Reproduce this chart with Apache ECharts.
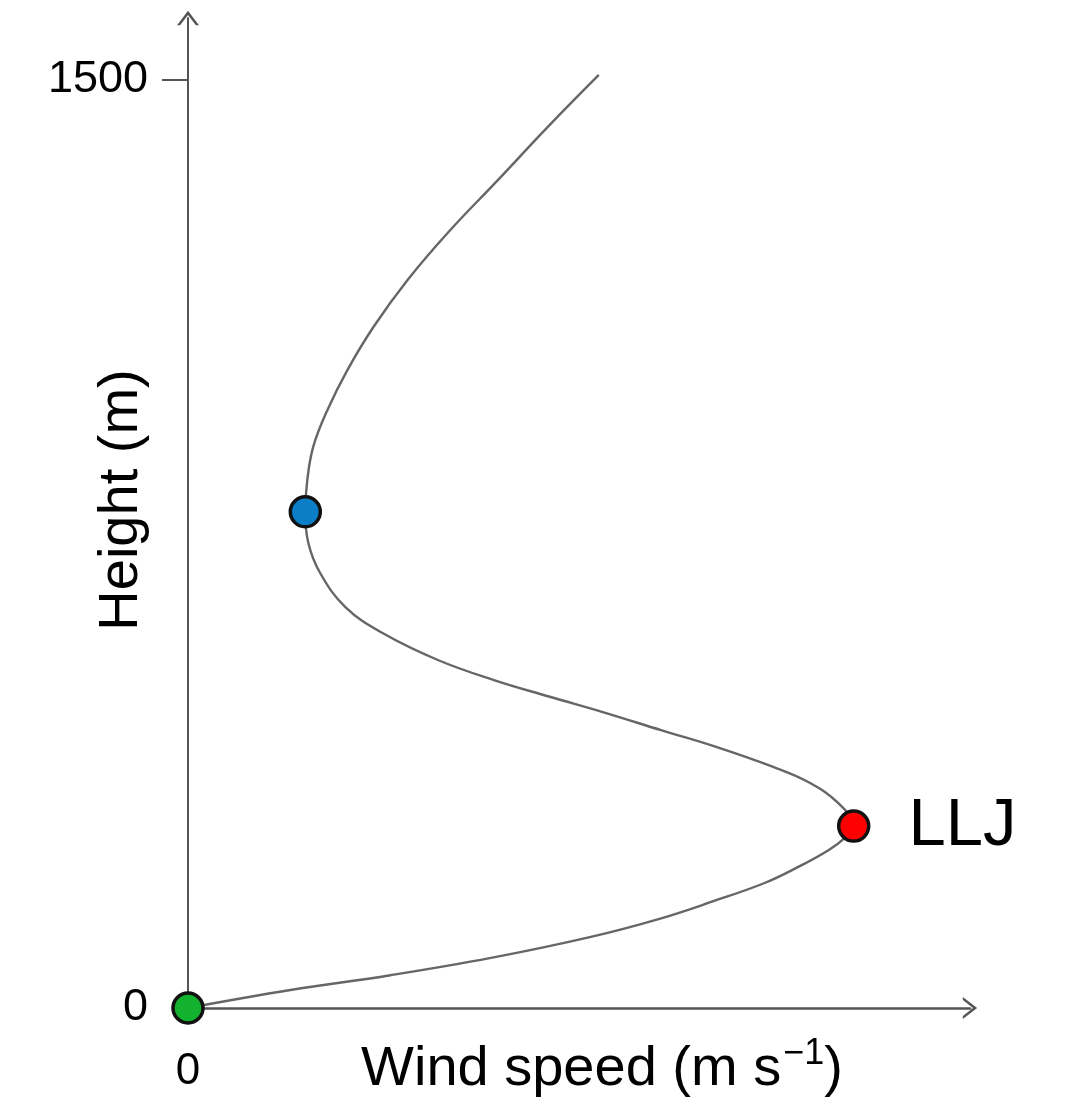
<!DOCTYPE html>
<html>
<head>
<meta charset="utf-8">
<title>LLJ wind profile</title>
<script src="https://cdn.jsdelivr.net/npm/echarts@6/dist/echarts.min.js"></script>
<style>
  html, body { margin: 0; padding: 0; background: #fff; }
  #chart { width: 1066px; height: 1102px; }
</style>
</head>
<body>
<div id="chart"></div>
<script>
'use strict';

// wind profile, ordered from the ground upward
const profileSpeed = [0, 2.07, 4.09, 6.12, 8.14, 9.56, 10.63, 11.65, 12.33, 12.94, 13.27, 13.45,
  13.14, 12.56, 11.81, 10.67, 9.56, 8.43, 7.31, 6.18, 5.06, 3.93, 3.18, 2.67, 2.43, 2.37,
  2.41, 2.53, 2.82, 3.22, 3.75, 4.44, 5.25, 6.26, 7.27, 8.30]
const profileHeight = [0, 29, 53, 81, 115, 145, 173, 202, 228, 255, 275, 294,
  331, 364, 390, 422, 449, 477, 503, 530, 562, 606, 648, 703, 752, 802,
  853, 907, 967, 1031, 1101, 1177, 1253, 1338, 1424, 1508]

// marked points: surface, jet nose, wind minimum above the jet
const markerNames = ['surface', 'LLJ', 'minimum']
const markerSpeed = [0, 13.45, 2.37]
const markerHeight = [0, 294, 802]
const markerColors = ['#12b22e', '#ff0000', '#0a7fc8']

const yTickLabels = [0, 1500]
const xTickLabels = [0]

const axisColor = '#555'
const font = '"Liberation Sans", Arial, sans-serif'
// open chevron used for the axis arrow heads
const chevron = 'path://M10,0 L20,13 L17.2,13 L10,3.8 L2.8,13 L0,13 Z'

const chart = echarts.init(document.getElementById('chart'))

const option = {
  backgroundColor: '#fff',
  animation: false,
  grid: { left: 188, right: 96, top: 18, bottom: 94, containLabel: false, outerBoundsMode: 'none' },
  xAxis: {
    type: 'value',
    min: 0,
    max: 15.8,
    name: '{a|Wind speed (m s}{b|−1}{a|)}',
    nameLocation: 'middle',
    nameGap: 28,
    nameMoveOverlap: false,
    nameTextStyle: {
      padding: [0, 0, 0, 46],
      rich: {
        a: { fontFamily: font, fontSize: 56, color: '#000', lineHeight: 62, verticalAlign: 'bottom' },
        b: { fontFamily: font, fontSize: 36, color: '#000', lineHeight: 62, verticalAlign: 'top', padding: [0, 0, 0, 2] }
      }
    },
    axisLine: {
      lineStyle: { color: axisColor, width: 2.5 },
      symbol: ['none', chevron],
      symbolSize: [22, 16]
    },
    axisTick: { show: false },
    axisLabel: {
      customValues: xTickLabels,
      margin: 42,
      fontFamily: font,
      fontSize: 44,
      color: '#000'
    },
    splitLine: { show: false }
  },
  yAxis: {
    type: 'value',
    min: 0,
    max: 1600,
    name: 'Height (m)',
    nameLocation: 'middle',
    nameGap: 38,
    nameMoveOverlap: false,
    nameTextStyle: { fontFamily: font, fontSize: 56, color: '#000', padding: [0, 0, 0, 26] },
    axisLine: {
      lineStyle: { color: axisColor, width: 2 },
      symbol: ['none', chevron],
      symbolSize: [22, 16]
    },
    axisTick: {
      customValues: [1500],
      length: 26,
      lineStyle: { color: axisColor, width: 2 }
    },
    axisLabel: {
      customValues: yTickLabels,
      formatter: function (v) { return String(v) },
      margin: 40,
      fontFamily: font,
      fontSize: 45,
      color: '#000'
    },
    splitLine: { show: false }
  },
  series: [
    {
      name: 'profile',
      type: 'line',
      data: profileSpeed.map(function (s, i) { return [s, profileHeight[i]] }),
      smooth: 0.4,
      showSymbol: false,
      clip: false,
      lineStyle: { color: '#666', width: 2.4 },
      z: 2
    },
    {
      name: 'markers',
      type: 'scatter',
      clip: false,
      symbolSize: 30,
      data: markerNames.map(function (n, i) {
        const item = {
          name: n,
          value: [markerSpeed[i], markerHeight[i]],
          itemStyle: { color: markerColors[i], borderColor: '#111', borderWidth: 3.5, opacity: 1 }
        }
        if (n === 'LLJ') {
          item.label = {
            show: true,
            position: 'right',
            distance: 38,
            formatter: 'LLJ',
            fontFamily: font,
            fontSize: 67,
            color: '#000',
            opacity: 1
          }
        }
        return item
      }),
      z: 3
    }
  ]
}

chart.setOption(option)
</script>
</body>
</html>
